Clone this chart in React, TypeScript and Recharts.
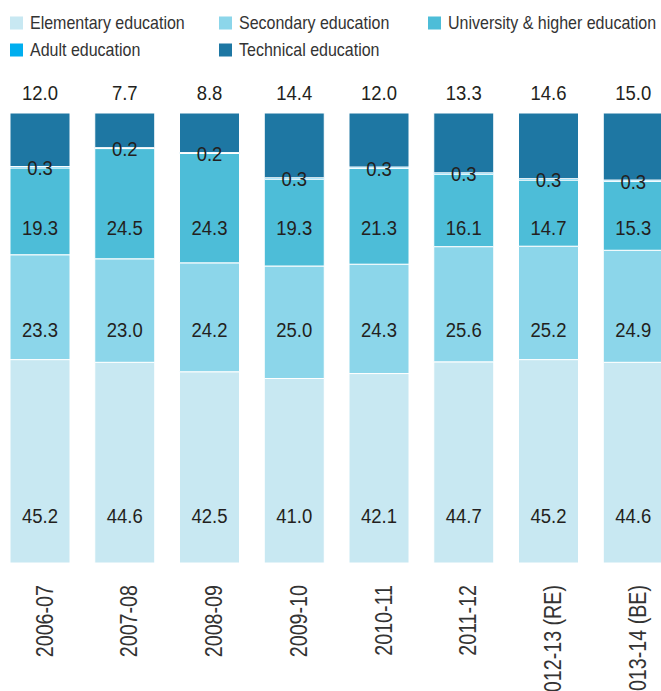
import React from "react";
import { BarChart, Bar, XAxis, YAxis, LabelList } from "recharts";

// shares of education spending, %
const years = ["2006-07", "2007-08", "2008-09", "2009-10", "2010-11", "2011-12", "2012-13 (RE)", "2013-14 (BE)"];
const elementary = [45.2, 44.6, 42.5, 41.0, 42.1, 44.7, 45.2, 44.6];
const secondary = [23.3, 23.0, 24.2, 25.0, 24.3, 25.6, 25.2, 24.9];
const university = [19.3, 24.5, 24.3, 19.3, 21.3, 16.1, 14.7, 15.3];
const adult = [0.3, 0.2, 0.2, 0.3, 0.3, 0.3, 0.3, 0.3];
const technical = [12.0, 7.7, 8.8, 14.4, 12.0, 13.3, 14.6, 15.0];

const seriesNames = ["Elementary education", "Secondary education", "University & higher education", "Adult education", "Technical education"];
const seriesKeys = ["elementary", "secondary", "university", "adult", "technical"];
const colors = ["#c8e8f2", "#8cd6ea", "#4dbdd8", "#00aeef", "#1e77a3"];

const data = years.map((y, i) => ({
  year: y,
  elementary: elementary[i],
  secondary: secondary[i],
  university: university[i],
  adult: adult[i],
  technical: technical[i],
}));

// no condensed font installed, so squeeze Liberation Sans horizontally
const FONT = "'Liberation Sans', Arial, sans-serif";
const TXT = "#231f20";

const fmt = (v: any) => Number(v).toFixed(1);

const Narrow = ({ x, y, size, sx, anchor, fill, rotate, children }: any) => (
  <text transform={`translate(${x}, ${y}) rotate(${rotate || 0}) scale(${sx}, 1)`}
    x={0} y={0} dy="0.36em" textAnchor={anchor || "middle"} fill={fill}
    fontFamily={FONT} fontSize={size}>
    {children}
  </text>
);

function makeLabel(kind: string) {
  return (p: any) => {
    const { x, y, width, height, value } = p;
    const cx = x + width / 2;
    let cy = y + height / 2;
    if (kind === "elementary") cy = y + height - 48;
    if (kind === "secondary") cy = 329;
    if (kind === "university") cy = 227;
    if (kind === "adult") cy = y + 1;
    if (kind === "technical") cy = y - 21;
    return (
      <Narrow x={cx} y={cy} size={21} sx={0.88} fill={TXT}>{fmt(value)}</Narrow>
    );
  };
}

const XTick = (props: any) => {
  const { x, y, payload } = props;
  return (
    <text transform={`translate(${x + 3.5}, ${y + 22}) rotate(-90) scale(0.82, 1)`}
      x={0} y={0} dy="0.36em" textAnchor="end" fill="#333"
      fontFamily={FONT} fontSize={24}>
      {payload.value}
    </text>
  );
};

const legendPos = [
  [10, 23], [219, 23], [428, 23],
  [10, 50], [219, 50],
];

const LegendBox = () => (
  <svg width={661} height={70} style={{ display: "block" }}>
    {seriesNames.map((n, i) => (
      <g key={n}>
        <rect x={legendPos[i][0]} y={legendPos[i][1] - 6.5} width={13} height={13} fill={colors[i]} />
        <Narrow x={legendPos[i][0] + 20} y={legendPos[i][1]} size={18} sx={0.89}
          anchor="start" fill="#333">{n}</Narrow>
      </g>
    ))}
  </svg>
);

export default function App() {
  return (
    <div style={{ position: "absolute", left: 0, top: 0, width: 661, height: 691, overflow: "hidden", background: "#fff" }}>
      <div style={{ position: "absolute", left: 0, top: 0 }}>
        <LegendBox />
      </div>
      <div style={{ position: "absolute", left: -2, top: 0 }}>
        <BarChart width={678} height={691} data={data} barSize={60}
          margin={{ top: 113, right: 0, bottom: 0, left: 0 }}>
          <XAxis dataKey="year" axisLine={false} tickLine={false} tickSize={0} tickMargin={0}
            interval={0} tick={<XTick />} height={128} />
          <YAxis hide domain={[0, 100]} allowDataOverflow />
          {seriesKeys.map((k, i) => (
            <Bar key={k} dataKey={k} name={seriesNames[i]} stackId="a" fill={colors[i]}
              stroke="#fff" strokeWidth={1} isAnimationActive={false}>
              <LabelList dataKey={k} content={makeLabel(k)} />
            </Bar>
          ))}
        </BarChart>
      </div>
    </div>
  );
}
